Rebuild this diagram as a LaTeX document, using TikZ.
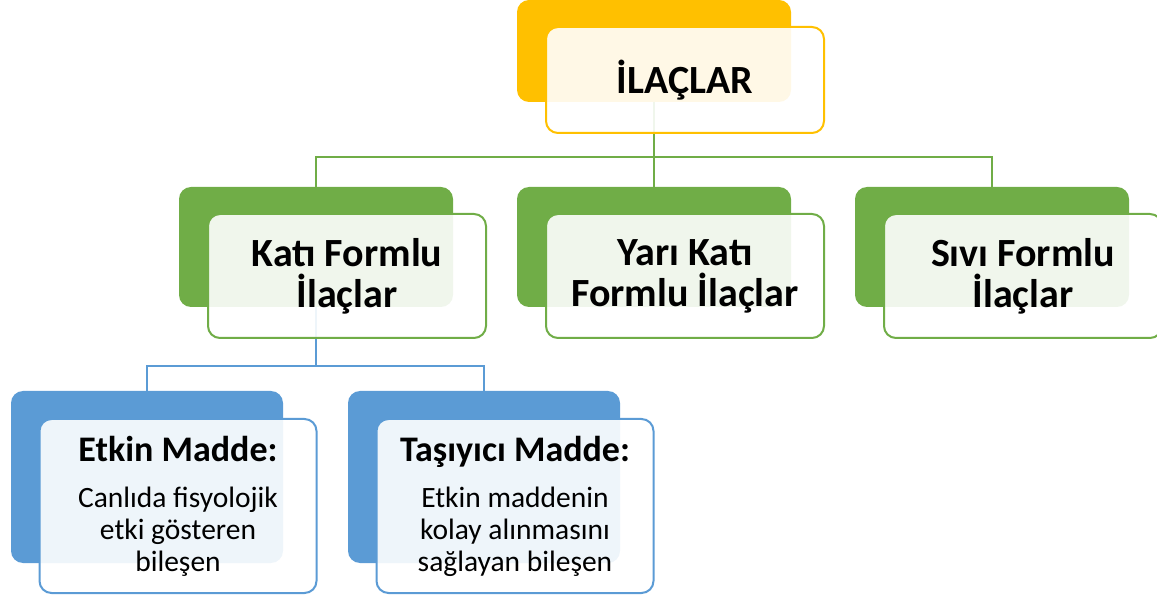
\documentclass[tikz,border=0pt]{standalone}
\usepackage{fontspec}
\setmainfont{Carlito}
\usetikzlibrary{positioning}

\definecolor{ylw}{HTML}{FFC000}
\definecolor{grn}{HTML}{70AD47}
\definecolor{blu}{HTML}{5B9BD5}

\begin{document}
\begin{tikzpicture}[x=1pt, y=-1pt,
			backnode/.style={rectangle, rounded corners=12pt, fill=#1, inner sep=0pt, outer sep=0pt},
			frontnode/.style={rectangle, rounded corners=12pt, draw=#1, line width=2pt, fill=white, fill opacity=0.9, text opacity=1, inner sep=0pt, outer sep=0pt, align=center},
			titletext/.style={font=\fontsize{40}{41}\selectfont\bfseries},
			bodytext/.style={font=\fontsize{29.5}{32}\selectfont},
			conn/.style={draw=#1, line width=2pt},
			]
			\useasboundingbox (0,0) rectangle (1157,601);
			%Back boxes
			\node[backnode=ylw, minimum width=274pt, minimum height=102pt] (ilaclarB) at (654,51) {};
			\node[backnode=grn, minimum width=274pt, minimum height=120pt] (katiB) at (316,247) {};
			\node[backnode=grn, minimum width=274pt, minimum height=120pt] (yariB) [right=64pt of katiB] {};
			\node[backnode=grn, minimum width=274pt, minimum height=120pt] (siviB) [right=64pt of yariB] {};
			\node[backnode=blu, minimum width=272pt, minimum height=172pt] (etkinB) at (147,477) {};
			\node[backnode=blu, minimum width=272pt, minimum height=172pt] (tasiyiciB) [right=65pt of etkinB] {};

			%Connectors
			\coordinate (hub) at (654,157);
			\coordinate (hubK) at (316,366);
			\draw[conn=grn] (ilaclarB.south) -- (hub);
			\draw[conn=grn] (katiB.north) |- (hub) -| (siviB.north);
			\draw[conn=grn] (hub) -- (yariB.north);
			\draw[conn=blu] (katiB.south) -- (hubK);
			\draw[conn=blu] (etkinB.north) |- (hubK) -| (tasiyiciB.north);

			%Front boxes
			\node[frontnode=ylw, minimum width=278pt, minimum height=106pt, titletext] (ilaclar) at ([shift={(31,29)}]ilaclarB.center) {İLAÇLAR};
			\node[frontnode=grn, minimum width=278pt, minimum height=124pt, titletext] (kati) at ([shift={(31,29)}]katiB.center) {Katı Formlu\\İlaçlar};
			\node[frontnode=grn, minimum width=278pt, minimum height=124pt, titletext] (yari) at ([shift={(31,29)}]yariB.center) {Yarı Katı\\Formlu İlaçlar};
			\node[frontnode=grn, minimum width=278pt, minimum height=124pt, titletext] (sivi) at ([shift={(31,29)}]siviB.center) {Sıvı Formlu\\İlaçlar};
			\node[frontnode=blu, minimum width=277pt, minimum height=174pt, bodytext] (etkin) at ([shift={(31,29)}]etkinB.center)
				{{\fontsize{36}{38}\selectfont\bfseries Etkin Madde:}\\[14pt]Canlıda fisyolojik\\etki gösteren\\bileşen};
			\node[frontnode=blu, minimum width=277pt, minimum height=174pt, bodytext] (tasiyici) at ([shift={(31,29)}]tasiyiciB.center)
				{{\fontsize{36}{38}\selectfont\bfseries Taşıyıcı Madde:}\\[14pt]Etkin maddenin\\kolay alınmasını\\sağlayan bileşen};
		\end{tikzpicture}
\end{document}
